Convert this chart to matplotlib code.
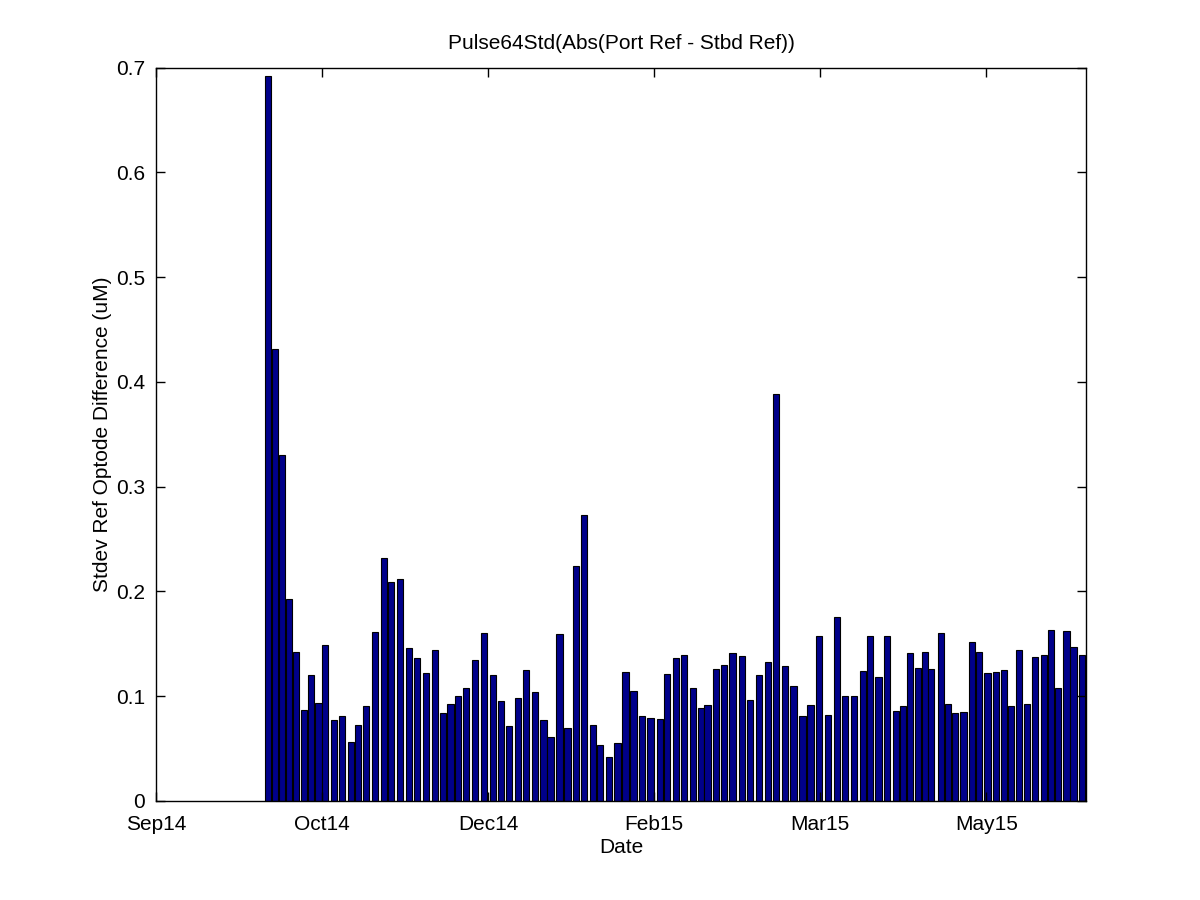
"""
Pulse64Std bar chart - stdev of port/stbd ref optode difference
"""

import matplotlib
matplotlib.use('Agg')
import matplotlib.pyplot as plt

# x = days after the Sep14 tick, y = stdev (uM)
dias = [33.7, 35.8, 38.0, 40.1, 42.2, 44.6, 46.7, 48.9, 50.9, 53.6,
        56.0, 58.7, 60.8, 63.3, 66.0, 68.7, 70.8, 73.5, 76.2, 78.6,
        81.3, 84.0, 86.4, 88.7, 91.0, 93.4, 96.1, 98.8, 101.4, 103.8,
        106.3, 109.0, 111.4, 114.2, 116.7, 118.8, 121.5, 123.9, 126.5, 128.9,
        131.5, 133.6, 136.3, 138.9, 141.4, 143.8, 146.4, 148.9, 151.7, 153.9,
        156.5, 159.0, 161.6, 164.0, 166.0, 168.5, 171.1, 173.6, 176.4, 178.9,
        181.5, 184.2, 186.7, 189.3, 191.9, 194.6, 197.1, 199.7, 202.3, 205.0,
        207.5, 210.1, 212.8, 214.9, 217.5, 220.0, 222.7, 224.8, 227.0, 229.4,
        231.5, 233.4, 236.3, 238.4, 240.5, 243.1, 245.6, 247.7, 250.3, 252.9,
        255.4, 257.4, 259.8, 262.3, 264.6, 267.3, 269.4, 271.5, 274.1, 276.2,
        278.8]

stdev = [0.692, 0.431, 0.330, 0.193, 0.142, 0.087, 0.120, 0.094, 0.149, 0.077,
         0.081, 0.056, 0.073, 0.091, 0.161, 0.232, 0.209, 0.212, 0.146, 0.136,
         0.122, 0.144, 0.084, 0.093, 0.100, 0.108, 0.135, 0.160, 0.120, 0.095,
         0.072, 0.098, 0.125, 0.104, 0.077, 0.061, 0.159, 0.070, 0.224, 0.273,
         0.073, 0.053, 0.042, 0.055, 0.123, 0.105, 0.081, 0.079, 0.078, 0.121,
         0.136, 0.139, 0.108, 0.089, 0.092, 0.126, 0.130, 0.141, 0.138, 0.096,
         0.120, 0.133, 0.388, 0.129, 0.110, 0.081, 0.092, 0.157, 0.082, 0.176,
         0.100, 0.100, 0.124, 0.157, 0.118, 0.157, 0.086, 0.091, 0.141, 0.127,
         0.142, 0.126, 0.160, 0.093, 0.084, 0.085, 0.152, 0.142, 0.122, 0.123,
         0.125, 0.091, 0.144, 0.093, 0.137, 0.139, 0.163, 0.108, 0.162, 0.147,
         0.139]

ticks_x = [0, 50, 100, 150, 200, 250]
etiquetas_x = ['Sep14', 'Oct14', 'Dec14', 'Feb15', 'Mar15', 'May15']
ticks_y = [0, 0.1, 0.2, 0.3, 0.4, 0.5, 0.6, 0.7]

plt.rcParams['font.family'] = ['Liberation Sans', 'DejaVu Sans']

fig = plt.figure(figsize=(12, 9), dpi=100)
ax = fig.add_axes([0.13, 0.11, 0.775, 0.815])

ax.bar(dias, stdev, width=1.9, color='#00008A', edgecolor='black',
       linewidth=0.8)

ax.set_xlim(0, 280)
ax.set_ylim(0, 0.7)
ax.set_xticks(ticks_x)
ax.set_xticklabels(etiquetas_x)
ax.set_yticks(ticks_y)
ax.set_yticklabels(['0', '0.1', '0.2', '0.3', '0.4', '0.5', '0.6', '0.7'])

ax.tick_params(direction='in', length=6.5, width=1, top=True, right=True,
               labelsize=15)
ax.tick_params(axis='x', pad=10)
ax.tick_params(axis='y', pad=8)
for s in ax.spines.values():
    s.set_linewidth(1)

ax.set_title('Pulse64Std(Abs(Port Ref - Stbd Ref))', fontsize=15, pad=13)
ax.set_xlabel('Date', fontsize=15, labelpad=3)
ax.set_ylabel('Stdev Ref Optode Difference (uM)', fontsize=15, labelpad=3)

fig.savefig('out.png', dpi=100)
print("ok")
